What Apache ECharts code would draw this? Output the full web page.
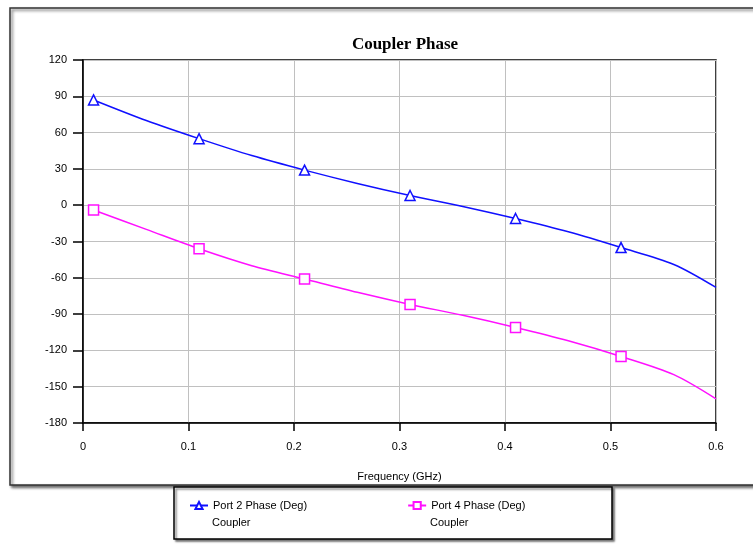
<!DOCTYPE html>
<html>
<head>
<meta charset="utf-8">
<script src="https://cdn.jsdelivr.net/npm/echarts@6/dist/echarts.min.js"></script>
<style>
    html, body { margin: 0; padding: 0; background: #fff; }
</style>
</head>
<body>
<div id="main" style="width: 753px;height:544px;"></div>
<script type="text/javascript">
    // frequency points (GHz) and phases
    var freq = [0.01, 0.06, 0.11, 0.16, 0.21, 0.26, 0.31, 0.36, 0.41, 0.46, 0.51, 0.56, 0.6];
    var port2 = [87, 70, 55, 41, 29, 18, 8, -1, -11, -22, -35, -49, -68];
    var port4 = [-4, -20, -36, -50, -61, -72, -82, -91, -101, -112, -125, -140, -160];
    // markers sit on every other point up to 0.51
    var markerIdx = [0, 2, 4, 6, 8, 10];

    var seriesNames = ['Port 2 Phase (Deg)', 'Port 4 Phase (Deg)'];
    var seriesSub = ['Coupler', 'Coupler'];

    function pairs(ys) {
        return freq.map(function (f, i) { return [f, ys[i]]; });
    }
    function markSize(size) {
        return function (v, p) { return markerIdx.indexOf(p.dataIndex) >= 0 ? size : 0; };
    }

    var myChart = echarts.init(document.getElementById('main'));

    var axisFont = { fontFamily: 'Liberation Sans', fontSize: 11, color: '#000' };

    var option = {
        animation: false,
        title: {
            text: 'Coupler Phase',
            left: 400,
            textAlign: 'center',
            top: 31,
            textStyle: { fontFamily: 'Liberation Serif', fontWeight: 'bold', fontSize: 17, color: '#000' }
        },
        grid: {
            left: 83, right: 37, top: 60, bottom: 121,
            show: true, borderColor: '#000', borderWidth: 1.5
        },
        xAxis: {
            type: 'value', min: 0, max: 0.6, interval: 0.1,
            name: 'Frequency (GHz)', nameLocation: 'middle', nameGap: 48,
            nameTextStyle: axisFont,
            axisLine: { onZero: false, lineStyle: { color: '#000', width: 1.5 } },
            axisTick: { length: 8, lineStyle: { color: '#000', width: 1.5 } },
            axisLabel: Object.assign({ margin: 18 }, axisFont),
            splitLine: { lineStyle: { color: '#c0c0c0', width: 1 } }
        },
        yAxis: {
            type: 'value', min: -180, max: 120, interval: 30,
            axisLine: { show: true, onZero: false, lineStyle: { color: '#000', width: 1.5 } },
            axisTick: { show: true, length: 10, lineStyle: { color: '#000', width: 1.5 } },
            axisLabel: Object.assign({ margin: 16 }, axisFont),
            splitLine: { lineStyle: { color: '#c0c0c0', width: 1 } }
        },
        legend: {
            left: 184, top: 495, itemGap: 100, itemWidth: 18, itemHeight: 9,
            textStyle: axisFont,
            data: seriesNames
        },
        graphic: [
            {
                type: 'rect', z: -10, silent: true,
                shape: { x: 10, y: 8, width: 780, height: 477 },
                style: { fill: '#fff', stroke: '#333', lineWidth: 1.5, shadowBlur: 3, shadowOffsetX: 2, shadowOffsetY: 2, shadowColor: 'rgba(0,0,0,0.6)' }
            },
            {
                type: 'rect', z: -5, silent: true,
                shape: { x: 174, y: 487, width: 438, height: 52 },
                style: { fill: '#fff', stroke: '#000', lineWidth: 1.5, shadowBlur: 2, shadowOffsetX: 2, shadowOffsetY: 2, shadowColor: 'rgba(0,0,0,0.5)' }
            },
            {
                type: 'text', left: 212, top: 517,
                style: { text: seriesSub[0], font: '11px "Liberation Sans"', fill: '#000' }
            },
            {
                type: 'text', left: 430, top: 517,
                style: { text: seriesSub[1], font: '11px "Liberation Sans"', fill: '#000' }
            }
        ],
        series: [
            {
                name: seriesNames[0], type: 'line', smooth: 0.3,
                data: pairs(port2), color: '#1010ff',
                symbol: 'triangle', symbolSize: markSize(10),
                lineStyle: { width: 1.5, color: '#1010ff' },
                itemStyle: { color: '#fff', borderColor: '#1010ff', borderWidth: 1.5 }
            },
            {
                name: seriesNames[1], type: 'line', smooth: 0.3,
                data: pairs(port4), color: '#ff10ff',
                symbol: 'rect', symbolSize: markSize(10),
                lineStyle: { width: 1.5, color: '#ff10ff' },
                itemStyle: { color: '#fff', borderColor: '#ff10ff', borderWidth: 1.5 }
            }
        ]
    };

    myChart.setOption(option);
</script>
</body>
</html>
